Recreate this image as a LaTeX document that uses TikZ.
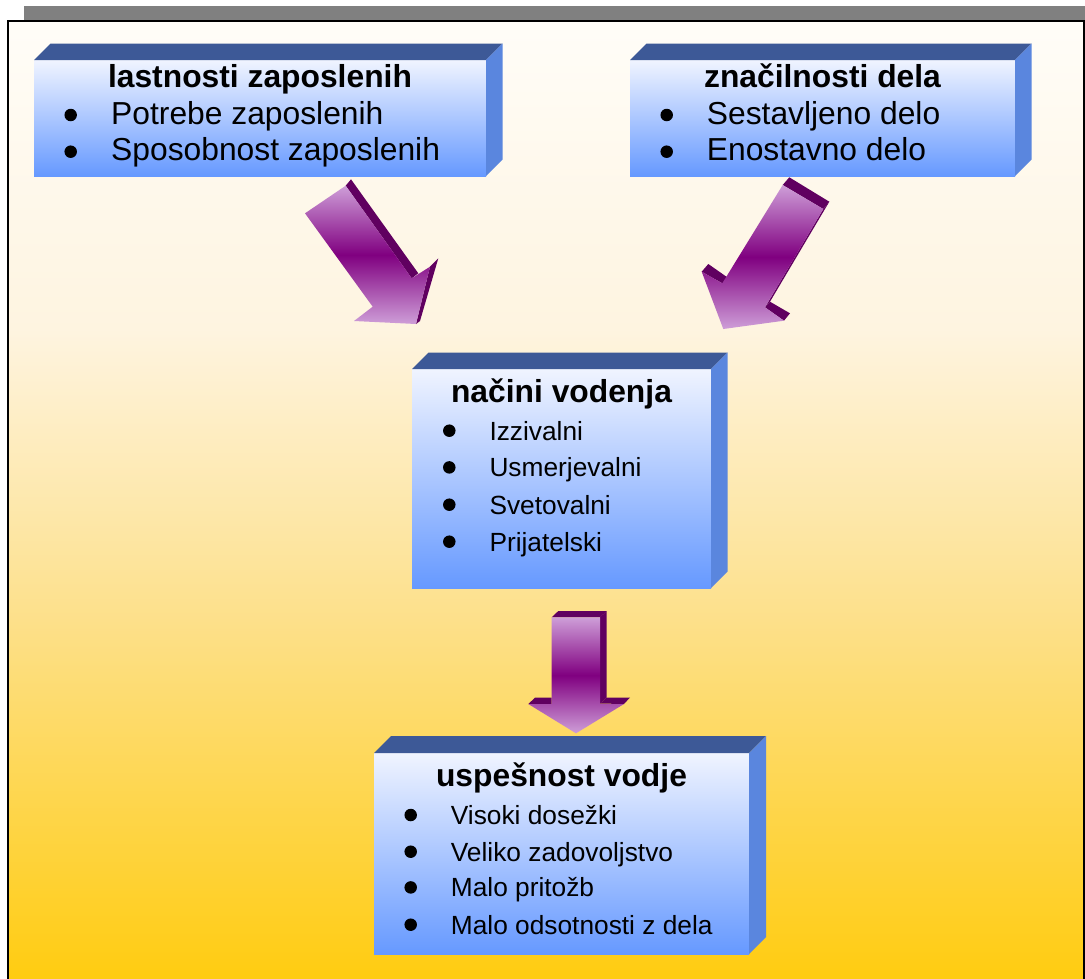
\documentclass[tikz,border=0pt]{standalone}
\usepackage{fontspec}
\setmainfont{Liberation Sans}
\usetikzlibrary{calc}

% page background colours (top to bottom)
\definecolor{bgA}{RGB}{255,253,248}
\definecolor{bgB}{RGB}{254,244,224}
\definecolor{bgC}{RGB}{253,224,138}
\definecolor{bgD}{RGB}{255,204,17}
% box colours
\definecolor{boxTopFace}{RGB}{61,89,151}
\definecolor{boxSideFace}{RGB}{90,134,222}
\definecolor{boxLight}{RGB}{240,244,255}
\definecolor{boxDeep}{RGB}{102,153,255}
% block arrow colours
\definecolor{arrLight}{RGB}{206,158,216}
\definecolor{arrMid}{RGB}{128,0,128}
\definecolor{arrDark}{RGB}{96,0,96}
\definecolor{barGray}{RGB}{128,128,128}

\pgfdeclareverticalshading{pagebg}{100bp}{color(0bp)=(bgD); color(25bp)=(bgD);
  color(43.7bp)=(bgC); color(58.9bp)=(bgB); color(75bp)=(bgA); color(100bp)=(bgA)}

\begin{document}
\begin{tikzpicture}[x=1pt,y=-1pt,
  front/.style={inner sep=0pt, outer sep=0pt, top color=boxLight, bottom color=boxDeep, draw=none},
  topface/.style={fill=boxTopFace},
  sideface/.style={fill=boxSideFace},
  title/.style={font=\fontsize{31.8}{38}\selectfont\bfseries, anchor=base, inner sep=0pt},
  bigitem/.style={font=\fontsize{31.8}{38}\selectfont, anchor=base west, inner sep=0pt},
  smallitem/.style={font=\fontsize{26.3}{32}\selectfont, anchor=base west, inner sep=0pt},
  dot/.style={circle, fill=black, inner sep=0pt, minimum size=12.5pt},
  arrfront/.style={top color=arrLight, bottom color=arrLight, middle color=arrMid},
  arrside/.style={fill=arrDark}
]
\useasboundingbox (0,0) rectangle (1085,978);

% title bar and framed background
\fill[barGray] (24,6) rectangle (1085,21);
\shade[shading=pagebg] (8,21) rectangle (1084,978);
\draw[line width=1.6pt] (8,980) -- (8,21) -- (1084,21) -- (1084,980);

% three-dimensional boxes: front face node plus top and side faces
\newcommand{\boxfaces}[2]{%
  \fill[topface] (#1.north west) -- ++(#2,-#2) -- ($(#1.north east)+(#2,-#2)$) -- (#1.north east) -- cycle;
  \fill[sideface] (#1.north east) -- ++(#2,-#2) -- ($(#1.south east)+(#2,-#2)$) -- (#1.south east) -- cycle;}

\node[front, minimum width=452pt, minimum height=116pt] (b1) at (260,118) {};
\boxfaces{b1}{16.5}
\node[front, minimum width=385pt, minimum height=116pt] (b2) at (822.5,118) {};
\boxfaces{b2}{16.5}
\node[front, minimum width=299pt, minimum height=219pt] (b3) at (561.5,478.5) {};
\boxfaces{b3}{16.5}
\node[front, minimum width=375pt, minimum height=201pt] (b4) at (561.5,853.5) {};
\boxfaces{b4}{17}

% box texts
\node[title] (t1) at (260,87) {lastnosti zaposlenih};
\node[dot] (d1a) at (70.7,115) {};
\node[dot] (d1b) at (70.7,151.7) {};
\node[bigitem] (i1a) at (111,124) {Potrebe zaposlenih};
\node[bigitem] (i1b) at (111,160.5) {Sposobnost zaposlenih};

\node[title] (t2) at (822.5,87) {značilnosti dela};
\node[dot] (d2a) at (666.7,115) {};
\node[dot] (d2b) at (666.7,151.7) {};
\node[bigitem] (i2a) at (706.7,124) {Sestavljeno delo};
\node[bigitem] (i2b) at (706.7,160.5) {Enostavno delo};

\node[title] (t3) at (561.5,402.7) {načini vodenja};
\node[dot] (d3a) at (449.3,430.7) {};
\node[dot] (d3b) at (449.3,467.4) {};
\node[dot] (d3c) at (449.3,504.7) {};
\node[dot] (d3d) at (449.3,541.7) {};
\node[smallitem] (i3a) at (489.3,440) {Izzivalni};
\node[smallitem] (i3b) at (489.3,476.7) {Usmerjevalni};
\node[smallitem] (i3c) at (489.3,514) {Svetovalni};
\node[smallitem] (i3d) at (489.3,551) {Prijatelski};

\node[title] (t4) at (561.5,786) {uspešnost vodje};
\node[dot] (d4a) at (410.7,815) {};
\node[dot] (d4b) at (410.7,851.7) {};
\node[dot] (d4c) at (410.7,887.4) {};
\node[dot] (d4d) at (410.7,924.7) {};
\node[smallitem] (i4a) at (450.7,824.3) {Visoki dosežki};
\node[smallitem] (i4b) at (450.7,861) {Veliko zadovoljstvo};
\node[smallitem] (i4c) at (450.7,896.7) {Malo pritožb};
\node[smallitem] (i4d) at (450.7,934) {Malo odsotnosti z dela};

% block arrow from the left box, pointing down-right
\fill[arrside] (345.7,185.7) -- (351,179.3) -- (418.3,273.3) -- (411.7,278.3) -- cycle;
\fill[arrside] (430,266.7) -- (438.3,258.3) -- (420,321) -- (416,324) -- cycle;
\shade[arrfront] (305,213.3) -- (345.7,185.7) -- (411.7,278.3) -- (430,266.7)
  -- (416,324) -- (354,321) -- (372.7,306.7) -- cycle;

% block arrow from the right box, pointing down-left
\fill[arrside] (782.7,185) -- (789.3,177.3) -- (829.3,201.7) -- (823.3,209) -- cycle;
\fill[arrside] (823.3,209) -- (829.3,201.7) -- (770,301.7) -- (765,307.3) -- cycle;
\fill[arrside] (701.7,271.7) -- (708.3,264) -- (727.3,277.3) -- (722.3,283.3) -- cycle;
\fill[arrside] (765,307.3) -- (770,301.7) -- (790,313.3) -- (784,320.7) -- cycle;
\shade[arrfront] (782.7,185) -- (823.3,209) -- (765,307.3) -- (784,320.7)
  -- (723.3,329) -- (701.7,271.7) -- (722.3,283.3) -- cycle;

% block arrow between the two lower boxes, pointing down
\fill[arrside] (551.7,617.3) -- (558.3,611) -- (606.7,611) -- (600,617.3) -- cycle;
\fill[arrside] (600,617.3) -- (606.7,611) -- (606.7,697.5) -- (600,703.5) -- cycle;
\fill[arrside] (528.3,704) -- (535,697.7) -- (551.7,697.7) -- (551.7,704) -- cycle;
\fill[arrside] (600,703.5) -- (606.7,697.5) -- (630,697.5) -- (624,704) -- cycle;
\shade[arrfront] (551.7,617.3) -- (600,617.3) -- (600,704) -- (624,704)
  -- (576,733.3) -- (528.3,704) -- (551.7,704) -- cycle;
\end{tikzpicture}
\end{document}
